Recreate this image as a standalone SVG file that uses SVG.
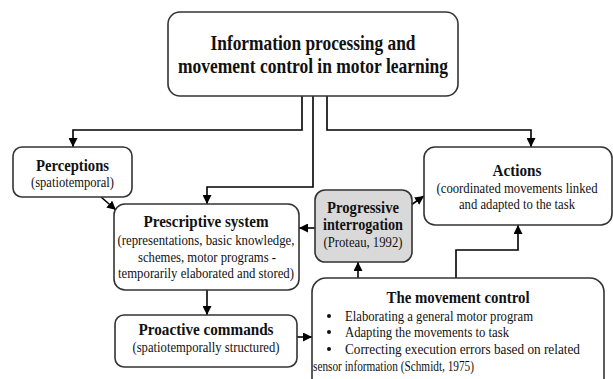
<svg xmlns="http://www.w3.org/2000/svg" width="613" height="379" viewBox="0 0 613 379">
<defs>
<marker id="ah" viewBox="0 0 10 10" refX="10" refY="5" markerWidth="9" markerHeight="9" markerUnits="userSpaceOnUse" orient="auto">
<path d="M0,0 L10,5 L0,10 z" fill="#000"/>
</marker>
<style>
.box{fill:#fff;stroke:#333;stroke-width:1.6}
.gray{fill:#d9d9d9}
.b{font-weight:bold;text-anchor:middle}
.r{text-anchor:middle;font-size:14px}
.l{font-size:14px}
.c{fill:none;stroke:#000;stroke-width:1.6;marker-end:url(#ah)}
</style>
</defs>
<rect width="613" height="379" fill="#fff"/>
<g id="connectors">
<polyline class="c" points="302,96 302,130 73,130 73,147"/>
<polyline class="c" points="327,96 327,130 531,130 531,147"/>
<polyline class="c" points="313,96 313,187 207,187 207,204"/>
<polyline class="c" points="101,197 116,210"/>
<polyline class="c" points="315,228 299,228"/>
<polyline class="c" points="411,205 424,196"/>
<polyline class="c" points="207,290 207,315"/>
<polyline class="c" points="297,337 312,337"/>
<polyline class="c" points="358,278 358,262"/>
<polyline class="c" points="456,278 456,250 518,250 518,225"/>
</g>
<g font-family="Liberation Serif, serif" fill="#111">
<g id="title">
<rect class="box" x="168" y="12" width="290" height="84" rx="12"/>
<text class="b" x="313" y="50" font-size="21" textLength="205" lengthAdjust="spacingAndGlyphs">Information processing and</text>
<text class="b" x="313" y="73" font-size="21" textLength="270" lengthAdjust="spacingAndGlyphs">movement control in motor learning</text>
</g>
<g id="perceptions">
<rect class="box" x="13" y="147" width="119" height="50" rx="9"/>
<text class="b" x="72.5" y="171" font-size="16" textLength="73" lengthAdjust="spacingAndGlyphs">Perceptions</text>
<text class="r" x="72.5" y="187" textLength="83" lengthAdjust="spacingAndGlyphs">(spatiotemporal)</text>
</g>
<g id="prescriptive">
<rect class="box" x="114" y="204" width="185" height="86" rx="11"/>
<text class="b" x="206" y="227" font-size="16" textLength="125" lengthAdjust="spacingAndGlyphs">Prescriptive system</text>
<text class="r" x="206" y="245" textLength="177" lengthAdjust="spacingAndGlyphs">(representations, basic knowledge,</text>
<text class="r" x="207" y="262" textLength="138" lengthAdjust="spacingAndGlyphs">schemes, motor programs -</text>
<text class="r" x="206" y="278" textLength="176" lengthAdjust="spacingAndGlyphs">temporarily elaborated and stored)</text>
</g>
<g id="progressive">
<rect class="box gray" x="315" y="190" width="97" height="72" rx="10"/>
<text class="b" x="363" y="213" font-size="16" textLength="72" lengthAdjust="spacingAndGlyphs">Progressive</text>
<text class="b" x="363" y="230" font-size="16" textLength="80" lengthAdjust="spacingAndGlyphs">interrogation</text>
<text class="r" x="363" y="247" textLength="79" lengthAdjust="spacingAndGlyphs">(Proteau, 1992)</text>
</g>
<g id="actions">
<rect class="box" x="424" y="147" width="188" height="78" rx="11"/>
<text class="b" x="517" y="176" font-size="16" textLength="49" lengthAdjust="spacingAndGlyphs">Actions</text>
<text class="r" x="517" y="193" textLength="161" lengthAdjust="spacingAndGlyphs">(coordinated movements linked</text>
<text class="r" x="517" y="209" textLength="116" lengthAdjust="spacingAndGlyphs">and adapted to the task</text>
</g>
<g id="proactive">
<rect class="box" x="115" y="315" width="182" height="52" rx="9"/>
<text class="b" x="206" y="335" font-size="16" textLength="135" lengthAdjust="spacingAndGlyphs">Proactive commands</text>
<text class="r" x="206" y="352" textLength="147" lengthAdjust="spacingAndGlyphs">(spatiotemporally structured)</text>
</g>
<g id="movement-control">
<rect class="box" x="312" y="278" width="292" height="115" rx="14"/>
<text class="b" x="458" y="303" font-size="16" textLength="143" lengthAdjust="spacingAndGlyphs">The movement control</text>
<circle cx="329" cy="316" r="2"/>
<circle cx="329" cy="332" r="2"/>
<circle cx="329" cy="349" r="2"/>
<text class="l" x="345" y="321" textLength="188" lengthAdjust="spacingAndGlyphs">Elaborating a general motor program</text>
<text class="l" x="345" y="337" textLength="164" lengthAdjust="spacingAndGlyphs">Adapting the movements to task</text>
<text class="l" x="345" y="354" textLength="235" lengthAdjust="spacingAndGlyphs">Correcting execution errors based on related</text>
<text class="l" x="313" y="371" textLength="161" lengthAdjust="spacingAndGlyphs">sensor information (Schmidt, 1975)</text>
</g>
</g>
</svg>
